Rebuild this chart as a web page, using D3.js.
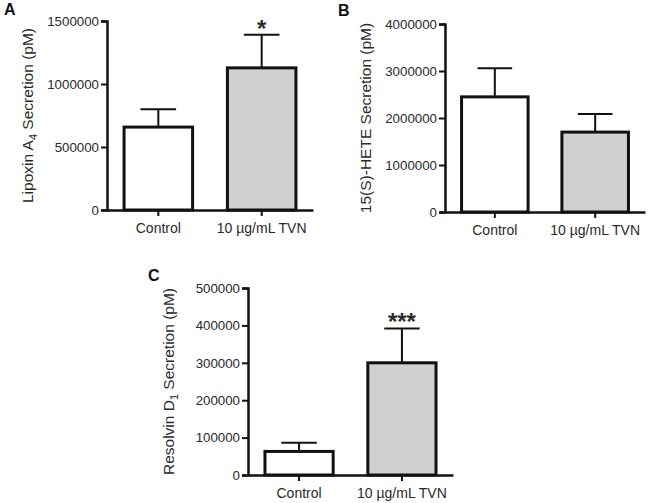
<!DOCTYPE html>
<html>
<head>
<meta charset="utf-8">
<script src="https://cdn.jsdelivr.net/npm/d3@7"></script>
<style>
  body { margin: 0; background: #fff; }
  svg { display: block; font-family: "Liberation Sans", Arial, sans-serif; }
</style>
</head>
<body>
<svg id="chart" width="649" height="503"></svg>
<script>
// data
var groups = ["Control", "10 \u00b5g/mL TVN"];

var lipoxinMean = [658000, 1128000];
var lipoxinSem = [142000, 262000];
var lipoxinTicks = [0, 500000, 1000000, 1500000];

var heteMean = [2450000, 1700000];
var heteSem = [610000, 385000];
var heteTicks = [0, 1000000, 2000000, 3000000, 4000000];

var resolvinMean = [63000, 300000];
var resolvinSem = [23000, 92000];
var resolvinTicks = [0, 100000, 200000, 300000, 400000, 500000];

var FILLS = ["#ffffff", "#d0d0d0"];
var TEXT = "#2a2a2a";

var svg = d3.select("#chart");

var drawPanel = function(p) {
  var g = svg.append("g");
  var y = d3.scaleLinear().domain([0, p.max]).range([p.y0, p.y1]);
  var x = d3.scaleBand().domain(groups).range([p.x0, p.x1])
    .paddingInner(0.337).paddingOuter(0.165);

  // y axis
  var yAxis = g.append("g")
    .attr("transform", "translate(" + p.x0 + ",0)")
    .call(d3.axisLeft(y).tickValues(p.ticks).tickFormat(d3.format("d")).tickSize(6).tickPadding(2));
  yAxis.select(".domain").attr("stroke", "#111").attr("stroke-width", 2.5);
  yAxis.selectAll(".tick line").attr("stroke", "#111").attr("stroke-width", 2);
  yAxis.selectAll(".tick text")
    .attr("font-size", 13.3).attr("fill", TEXT)
    .attr("font-family", "Liberation Sans, Arial, sans-serif");

  // x axis
  var xAxis = g.append("g")
    .attr("transform", "translate(0," + p.y0 + ")")
    .call(d3.axisBottom(x).tickSize(6).tickSizeOuter(0).tickPadding(7));
  xAxis.select(".domain").attr("stroke", "#111").attr("stroke-width", 2.5);
  xAxis.selectAll(".tick line").attr("stroke", "#111").attr("stroke-width", 2);
  xAxis.selectAll(".tick text")
    .attr("font-size", 14).attr("fill", TEXT)
    .attr("font-family", "Liberation Sans, Arial, sans-serif");

  // error bars (upper only)
  var capHalf = x.bandwidth() * 0.26;
  groups.forEach(function(grp, i) {
    var cx = x(grp) + x.bandwidth() / 2;
    var top = y(p.mean[i] + p.sem[i]);
    g.append("line")
      .attr("x1", cx).attr("x2", cx)
      .attr("y1", y(p.mean[i])).attr("y2", top)
      .attr("stroke", "#111").attr("stroke-width", 2);
    g.append("line")
      .attr("x1", cx - capHalf).attr("x2", cx + capHalf)
      .attr("y1", top).attr("y2", top)
      .attr("stroke", "#111").attr("stroke-width", 2);
    if (p.stars[i]) {
      g.append("text")
        .attr("x", cx).attr("y", top + 2)
        .attr("text-anchor", "middle")
        .attr("font-size", 24).attr("font-weight", "bold").attr("fill", TEXT)
        .text(p.stars[i]);
    }
  });

  // bars
  g.selectAll("rect.bar").data(groups).enter().append("rect")
    .attr("class", "bar")
    .attr("x", function(d) { return x(d); })
    .attr("width", x.bandwidth())
    .attr("y", function(d, i) { return y(p.mean[i]); })
    .attr("height", function(d, i) { return p.y0 - y(p.mean[i]); })
    .attr("fill", function(d, i) { return FILLS[i]; })
    .attr("stroke", "#111").attr("stroke-width", 3);

  // y label with subscript
  var lab = g.append("text")
    .attr("transform", "translate(" + (p.x0 - 74) + "," + ((p.y0 + p.y1) / 2) + ") rotate(-90)")
    .attr("text-anchor", "middle")
    .attr("font-size", 15.5).attr("fill", TEXT);
  lab.append("tspan").text(p.label[0]);
  if (p.label[1]) {
    lab.append("tspan").attr("font-size", 11).attr("dy", 4).text(p.label[1]);
    lab.append("tspan").attr("dy", -4).text(p.label[2]);
  }

  // panel letter
  g.append("text")
    .attr("x", p.lx).attr("y", p.ly)
    .attr("font-size", 16).attr("font-weight", "bold").attr("fill", "#111")
    .text(p.letter);
};

drawPanel({
  letter: "A", lx: 4, ly: 15,
  x0: 107, x1: 313, y0: 210, y1: 21, max: 1500000,
  ticks: lipoxinTicks, mean: lipoxinMean, sem: lipoxinSem,
  stars: ["", "*"],
  label: ["Lipoxin A", "4", " Secretion (pM)"]
});

drawPanel({
  letter: "B", lx: 338, ly: 16,
  x0: 445, x1: 645, y0: 212, y1: 24, max: 4000000,
  ticks: heteTicks, mean: heteMean, sem: heteSem,
  stars: ["", ""],
  label: ["15(S)-HETE Secretion (pM)"]
});

drawPanel({
  letter: "C", lx: 148, ly: 281,
  x0: 248, x1: 453, y0: 475, y1: 288, max: 500000,
  ticks: resolvinTicks, mean: resolvinMean, sem: resolvinSem,
  stars: ["", "***"],
  label: ["Resolvin D", "1", " Secretion (pM)"]
});
</script>
</body>
</html>
